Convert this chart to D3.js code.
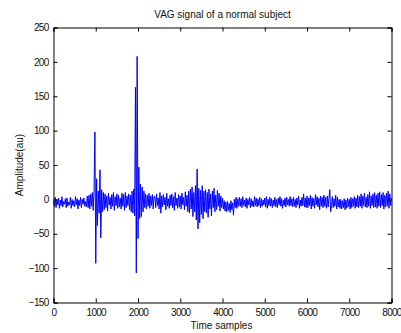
<!DOCTYPE html>
<html>
<head>
<meta charset="utf-8">
<script src="https://cdn.jsdelivr.net/npm/d3@7"></script>
<style>
  html, body { margin: 0; padding: 0; background: #fff; }
  svg { display: block; }
  text { font-family: "Liberation Sans", Arial, sans-serif; fill: #111; }
</style>
</head>
<body>
<svg id="chart" width="401" height="333"></svg>
<script>
// ---- data ----
const title = "VAG signal of a normal subject";
const xLabel = "Time samples";
const yLabel = "Amplitude(au)";
const sampleStep = 20;               // one value every 20 samples
const xTicks = [0, 1000, 2000, 3000, 4000, 5000, 6000, 7000, 8000];
const yTicks = [-150, -100, -50, 0, 50, 100, 150, 200, 250];
const xDomain = [0, 8000];
const yDomain = [-150, 250];

const signal = [
  // 0 - 380
  -2,-10,3,-12,0,-8,2,-13,-1,-9,4,-11,-3,-7,1,-12,2,-10,-4,-8,
  // 400 - 780
  3,-13,0,-9,-2,-11,4,-8,1,-14,-1,-9,3,-12,0,-7,2,-10,-3,-11,
  // 800 - 1180
  5,-12,6,-14,8,-10,10,-16,12,98,-93,30,-38,12,-20,43,-56,14,-18,10,
  // 1200 - 1580
  -15,8,-12,5,-17,9,-8,3,-14,7,-10,10,-16,4,-9,8,-13,6,-11,2,
  // 1600 - 1980
  -14,9,-10,7,-16,10,-12,5,-9,8,-15,6,-18,12,-20,15,-24,163,-107,208,
  // 2000 - 2380
  -57,47,-28,22,-25,18,-18,12,-12,8,-14,6,-10,9,-13,5,-9,7,-14,4,
  // 2400 - 2780
  4,-12,8,-9,2,-14,10,-20,5,-11,7,-8,3,-15,9,-10,1,-13,6,-9,
  // 2800 - 3180
  8,-12,4,-16,10,-9,2,-13,7,-11,5,-14,9,-8,3,-15,11,-10,6,-18,
  // 3200 - 3580
  12,-20,15,-14,18,-25,10,-18,20,-30,44,-43,16,-34,13,-22,20,-28,12,-18,
  // 3600 - 3980
  14,-20,10,-26,15,-14,8,-24,12,-12,16,-18,6,-15,13,-10,9,-17,5,-12,
  // 4000 - 4380
  2,-14,-2,-17,-4,-18,-3,-16,-6,-19,-2,-15,-5,-23,0,-12,3,-13,1,-10,
  // 4400 - 4780
  3,-10,1,-12,4,-9,-1,-11,2,-13,0,-8,3,-12,1,-10,-2,-11,4,-9,
  // 4800 - 5180
  2,-11,0,-9,3,-12,1,-10,-1,-8,2,-11,4,-13,0,-9,3,-10,1,-12,
  // 5200 - 5580
  -1,-9,3,-11,0,-12,2,-8,4,-10,1,-13,-1,-9,2,-11,3,-8,0,-10,
  // 5600 - 5980
  4,-9,1,-11,3,-10,0,-12,2,-8,5,-13,-1,-10,3,-9,8,-11,2,-12,
  // 6000 - 6380
  5,-12,2,-9,6,-14,3,-10,1,-13,7,-8,4,-11,2,-15,5,-10,3,-12,
  // 6400 - 6780
  6,-10,3,-13,5,-11,2,14,-18,-9,4,-12,1,-10,6,-14,3,-11,0,-13,
  // 6800 - 7180
  0,-14,-2,-12,1,-15,-1,-13,2,-11,0,-14,3,-12,1,-10,4,-13,2,-11,
  // 7200 - 7580
  6,-12,4,-10,8,-13,5,-9,9,-11,3,-12,7,-10,11,-13,5,-9,8,-12,
  // 7600 - 7980
  10,-11,6,-13,9,-10,11,-12,7,-9,10,-14,6,-11,9,-10,12,-13,8,-9,
  // 8000
  2
];

// ---- layout ----
const svg = d3.select("#chart");
const L = 53.5, R = 391.5, T = 27.5, B = 302.5;

const x = d3.scaleLinear().domain(xDomain).range([L, R]);
const y = d3.scaleLinear().domain(yDomain).range([B, T]);

// signal line
const line = d3.line()
  .x((d, i) => x(i * sampleStep))
  .y(d => y(d));

svg.append("path")
  .datum(signal)
  .attr("d", line)
  .attr("fill", "none")
  .attr("stroke", "#0000ff")
  .attr("stroke-width", 1);

// axes (MATLAB-style box, inward ticks on all sides)
const tickLen = 4;
const fmt = d3.format("d");

const gBottom = svg.append("g").attr("transform", `translate(0,${B})`)
  .call(d3.axisBottom(x).tickValues(xTicks).tickSize(-tickLen).tickPadding(6).tickFormat(fmt));
const gTop = svg.append("g").attr("transform", `translate(0,${T})`)
  .call(d3.axisTop(x).tickValues(xTicks).tickSize(-tickLen).tickFormat(""));
const gLeft = svg.append("g").attr("transform", `translate(${L},0)`)
  .call(d3.axisLeft(y).tickValues(yTicks).tickSize(-tickLen).tickPadding(5).tickFormat(fmt));
const gRight = svg.append("g").attr("transform", `translate(${R},0)`)
  .call(d3.axisRight(y).tickValues(yTicks).tickSize(-tickLen).tickFormat(""));

[gBottom, gTop, gLeft, gRight].forEach(g => {
  g.select(".domain").attr("stroke", "#000").attr("stroke-width", 1);
  g.selectAll(".tick line").attr("stroke", "#000");
  g.selectAll(".tick text")
    .attr("font-family", "Liberation Sans, Arial, sans-serif")
    .attr("font-size", 10)
    .attr("letter-spacing", "-0.7px")
    .attr("fill", "#111");
});

// title and labels
svg.append("text")
  .attr("x", (L + R) / 2).attr("y", 18)
  .attr("text-anchor", "middle").attr("font-size", 10)
  .text(title);

svg.append("text")
  .attr("x", (L + R) / 2 - 1).attr("y", 329)
  .attr("text-anchor", "middle").attr("font-size", 10)
  .text(xLabel);

svg.append("text")
  .attr("transform", `translate(23,${(T + B) / 2}) rotate(-90)`)
  .attr("text-anchor", "middle").attr("font-size", 10)
  .text(yLabel);
</script>
</body>
</html>
